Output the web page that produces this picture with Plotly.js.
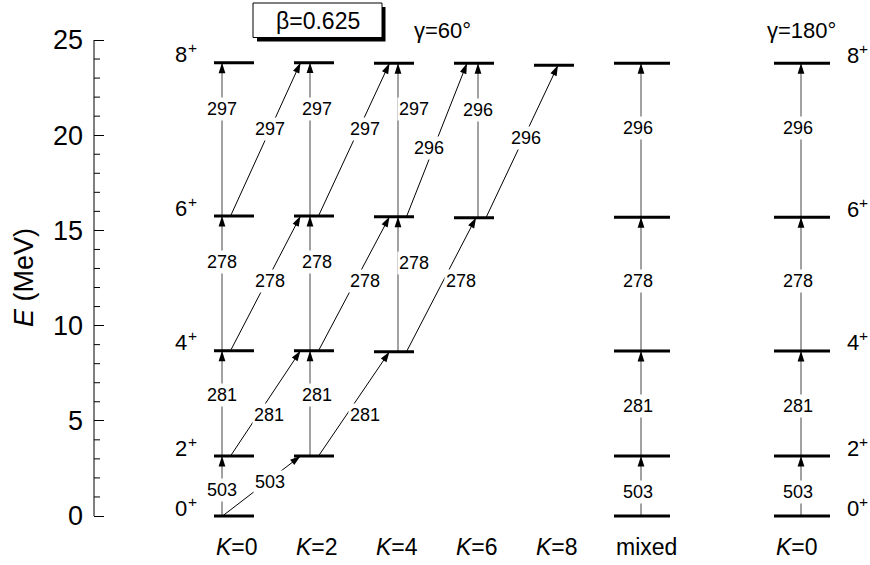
<!DOCTYPE html>
<html><head><meta charset="utf-8">
<script src="https://cdn.plot.ly/plotly-3.0.1.min.js"></script>
<style>html,body{margin:0;padding:0;background:#fff}#chart{width:870px;height:565px}</style>
</head><body><div id="chart"></div>
<script>
// ---------------- data ----------------
const bandLabels = ['<i>K</i>=0','<i>K</i>=2','<i>K</i>=4','<i>K</i>=6','<i>K</i>=8','mixed','<i>K</i>=0'];
const spins = [0, 2, 4, 6, 8];
const parity = '+';
// level energies (MeV) per band, indexed by spin 0,2,4,6,8
const E_K0    = [0, 3.15, 8.68, 15.75, 23.80];
const E_K2    = [null, 3.15, 8.68, 15.76, 23.81];
const E_K4    = [null, null, 8.63, 15.72, 23.78];
const E_K6    = [null, null, null, 15.67, 23.78];
const E_K8    = [null, null, null, null, 23.67];
const E_mixed = [0, 3.15, 8.67, 15.69, 23.78];
const E_K0g   = [0, 3.15, 8.67, 15.69, 23.78];
// in-band transition energies (keV): I -> I+2
const inK0    = [503, 281, 278, 297];
const inK2    = [null, 281, 278, 297];
const inK4    = [null, null, 278, 297];
const inK6    = [null, null, null, 296];
const inK8    = [null, null, null, null];
const inMixed = [503, 281, 278, 296];
const inK0g   = [503, 281, 278, 296];
// inter-band transitions K -> K+2, I -> I+2
const crossK0K2 = [503, 281, 278, 297];
const crossK2K4 = [null, 281, 278, 297];
const crossK4K6 = [null, null, 278, 296];
const crossK6K8 = [null, null, null, 296];
const yTicks = [0, 5, 10, 15, 20, 25];
const boxText = '\u03b2=0.625';
const gammaLeft = '\u03b3=60\u00b0';
const gammaRight = '\u03b3=180\u00b0';

// ---------------- layout constants ----------------
const FONT = 'Liberation Sans, Arial, Helvetica, sans-serif';
const W = 870, H = 565;
const PL = 94, PR = 870;          // plot area x (pixels)
const PT = 30, PB = 526;          // plot area y (pixels)
const Y0PX = 516, Y25PX = 40;     // where 0 and 25 MeV sit
const PXPU = (Y0PX - Y25PX) / 25; // pixels per MeV
const YMIN = -(PB - Y0PX) / PXPU, YMAX = 25 + (Y25PX - PT) / PXPU;
const px = v => (v - PL) / (PR - PL);
const py = v => (PB - v) / (PB - PT);
const COL_LEFT = [214, 294, 374, 454, 534, 614, 774];
const COL_W    = [40, 40, 40, 40, 40, 56, 56];
const VERT_X   = [222, 310, 398, 478, null, 641, 801];
const VERT_DX  = [0, 7, 15.5, 0, 0, -3.5, -3.5];
const VERT_T_L = [0.43, 0.575, 0.66, 0.70];
const VERT_T_R = [0.405, 0.48, 0.52, 0.58];
const OUT_X = [230.5, 318.5, 406.5, 486];
const OUT_X_GROUND = 222.5;
const IN_X = [null, 300.5, 389.5, 476, 558];
const IN_X_K6_TOP = 467;
const CROSS_LBL = [
  [[269.5,0.56],[269.3,0.39],[269.5,0.52],[269.7,0.57]],
  [null,[364.7,0.39],[365.3,0.52],[365,0.57]],
  [null,null,[461.3,0.53],[429.2,0.45]],
  [null,null,null,[525.8,0.52]]
];
const MINOR_LEN = 6;
const SPIN_FS = 22, SUP_FS = 15.5, SUP_W = 9.5;

const levelE = [E_K0, E_K2, E_K4, E_K6, E_K8, E_mixed, E_K0g];
const inBand = [inK0, inK2, inK4, inK6, inK8, inMixed, inK0g];
const cross  = [crossK0K2, crossK2K4, crossK4K6, crossK6K8];

// ---------------- build ----------------
const lvX = [], lvY = [];
levelE.forEach((E, b) => {
  E.forEach(e => {
    if (e === null) return;
    lvX.push(COL_LEFT[b], COL_LEFT[b] + COL_W[b], null);
    lvY.push(e, e, null);
  });
});

const vX = [], vY = [], dX = [], dY = [];
const hX = [], hY = [], hA = [];
const labels = [];
function lbl(text, x, y) {
  labels.push({text: String(text), x: x, y: y, xref: 'x', yref: 'y', showarrow: false,
    xanchor: 'center', yanchor: 'middle', bgcolor: '#ffffff', borderpad: 1,
    font: {family: FONT, size: 18, color: '#000'}});
}
inBand.forEach((tr, b) => {
  const E = levelE[b];
  tr.forEach((g, i) => {
    if (g === null) return;
    const x = VERT_X[b], y0 = E[i], y1 = E[i + 1];
    vX.push(x, x, null); vY.push(y0, y1, null);
    hX.push(x); hY.push(y1); hA.push(0);
    const t = (b >= 5 ? VERT_T_R : VERT_T_L)[i];
    lbl(g, x + VERT_DX[b], y0 + t * (y1 - y0));
  });
});
cross.forEach((tr, b) => {
  tr.forEach((g, i) => {
    if (g === null) return;
    const x0 = (b === 0 && i === 0) ? OUT_X_GROUND : OUT_X[b];
    const x1 = (b + 1 === 3 && i === 3) ? IN_X_K6_TOP : IN_X[b + 1];
    const y0 = levelE[b][i], y1 = levelE[b + 1][i + 1];
    dX.push(x0, x1, null); dY.push(y0, y1, null);
    hX.push(x1); hY.push(y1);
    hA.push(Math.atan2(x1 - x0, (y1 - y0) * PXPU) * 180 / Math.PI);
    const p = CROSS_LBL[b][i];
    lbl(g, p[0], y0 + p[1] * (y1 - y0));
  });
});

const texts = [];
function spinText(s, e, xEdge, side) {
  // spin number + raised parity sign
  const digitW = String(s).length * 0.556 * SPIN_FS;
  const common = {xref: 'x', yref: 'y', y: e, showarrow: false, yanchor: 'middle', borderpad: 0};
  if (side === 'left') {
    texts.push(Object.assign({}, common, {text: String(s), x: xEdge - SUP_W, xanchor: 'right', yshift: 8,
      font: {family: FONT, size: SPIN_FS, color: '#000'}}));
    texts.push(Object.assign({}, common, {text: parity, x: xEdge, xanchor: 'right', yshift: 15,
      font: {family: FONT, size: SUP_FS, color: '#000'}}));
  } else {
    texts.push(Object.assign({}, common, {text: String(s), x: xEdge, xanchor: 'left', yshift: 8,
      font: {family: FONT, size: SPIN_FS, color: '#000'}}));
    texts.push(Object.assign({}, common, {text: parity, x: xEdge + digitW, xanchor: 'left', yshift: 15,
      font: {family: FONT, size: SUP_FS, color: '#000'}}));
  }
}
spins.forEach((s, i) => {
  spinText(s, E_K0[i], 197.5, 'left');
  spinText(s, E_K0g[i], 845.5, 'right');
});
bandLabels.forEach((t, b) => {
  texts.push({text: t, x: px(COL_LEFT[b]), y: py(546.7), xref: 'paper', yref: 'paper', showarrow: false,
    xanchor: 'left', yanchor: 'middle', font: {family: FONT, size: 23, color: '#000'}});
});
texts.push({text: boxText, x: px(317.5), y: py(20.5), xref: 'paper', yref: 'paper', showarrow: false,
  xanchor: 'center', yanchor: 'middle', font: {family: FONT, size: 23, color: '#000'}});
texts.push({text: gammaLeft, x: px(442), y: py(30), xref: 'paper', yref: 'paper', showarrow: false,
  xanchor: 'center', yanchor: 'middle', font: {family: FONT, size: 22, color: '#000'}});
texts.push({text: gammaRight, x: px(801.7), y: py(30.5), xref: 'paper', yref: 'paper', showarrow: false,
  xanchor: 'center', yanchor: 'middle', font: {family: FONT, size: 22, color: '#000'}});
texts.push({text: '<i>E</i> (MeV)', x: px(23.5), y: py(277.5), xref: 'paper', yref: 'paper', showarrow: false,
  textangle: -90, xanchor: 'center', yanchor: 'middle', font: {family: FONT, size: 27, color: '#000'}});

const shapes = [
  // y axis line, only over 0..25
  {type: 'line', xref: 'paper', yref: 'y', x0: 0, x1: 0, y0: yTicks[0], y1: yTicks[yTicks.length - 1],
    line: {color: '#000', width: 1}},
  {type: 'rect', xref: 'paper', yref: 'paper', x0: px(257), x1: px(385.5), y0: py(41.5), y1: py(7),
    fillcolor: '#000', line: {width: 0}},
  {type: 'rect', xref: 'paper', yref: 'paper', x0: px(253), x1: px(382), y0: py(37.5), y1: py(3),
    fillcolor: '#fff', line: {color: '#000', width: 1}}
];
// minor ticks (every 1 MeV between the labelled ticks), drawn inside
for (let v = yTicks[0]; v <= yTicks[yTicks.length - 1]; v += 1) {
  if (yTicks.indexOf(v) >= 0) continue;
  shapes.push({type: 'line', xref: 'paper', yref: 'y', x0: 0, x1: MINOR_LEN / (PR - PL), y0: v, y1: v,
    line: {color: '#000', width: 1}});
}

const traces = [
  {x: vX, y: vY, mode: 'lines', line: {color: '#444', width: 1}, hoverinfo: 'skip'},
  {x: dX, y: dY, mode: 'lines', line: {color: '#000', width: 1}, hoverinfo: 'skip'},
  {x: lvX, y: lvY, mode: 'lines', line: {color: '#000', width: 3}, hoverinfo: 'skip'},
  {x: hX, y: hY, mode: 'markers', cliponaxis: false, hoverinfo: 'skip',
    marker: {symbol: 'arrow', size: 11, angle: hA, color: '#000', line: {width: 0}}}
];

const layout = {
  width: W, height: H,
  margin: {l: PL, r: W - PR, t: PT, b: H - PB, pad: 0},
  paper_bgcolor: '#fff', plot_bgcolor: '#fff',
  showlegend: false, hovermode: false,
  font: {family: FONT, color: '#000'},
  xaxis: {range: [PL, PR], visible: false, fixedrange: true},
  yaxis: {range: [YMIN, YMAX], showline: false,
    ticks: 'inside', ticklen: 10, tickwidth: 1, tickcolor: '#000',
    tickmode: 'array', tickvals: yTicks, ticktext: yTicks.map(String),
    showgrid: false, zeroline: false, ticklabelstandoff: 10,
    tickfont: {family: FONT, size: 27, color: '#000'}, fixedrange: true},
  shapes: shapes,
  annotations: labels.concat(texts)
};
Plotly.newPlot('chart', traces, layout, {staticPlot: true, displayModeBar: false});
</script>
</body></html>
